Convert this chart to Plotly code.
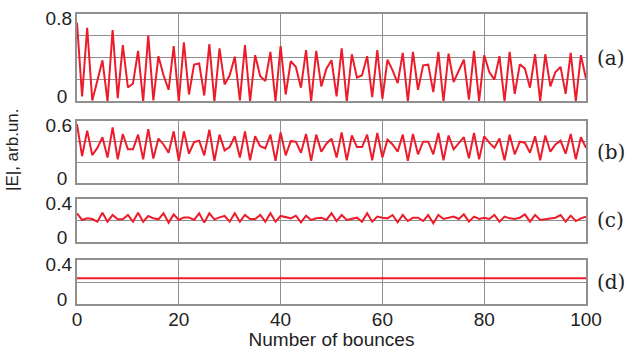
import plotly.graph_objects as go

# Field amplitude |E| versus number of bounces, four cases (a)-(d)
bounces = list(range(101))

a_vals = [
    0.72, 0.046, 0.674, 0.009, 0.19, 0.377, 0.0, 0.653, 0.03, 0.515,
    0.128, 0.165, 0.463, 0.0, 0.604, 0.009, 0.414, 0.24, 0.107, 0.506,
    0.0, 0.54, 0.064, 0.337, 0.347, 0.055, 0.524, 0.0, 0.485, 0.156,
    0.24, 0.41, 0.01, 0.515, 0.0, 0.423, 0.23, 0.187, 0.453, 0.0,
    0.506, 0.064, 0.368, 0.316, 0.126, 0.469, 0.0, 0.463, 0.138, 0.3,
    0.377, 0.046, 0.485, 0.0, 0.432, 0.218, 0.24, 0.414, 0.04, 0.469,
    0.025, 0.383, 0.285, 0.168, 0.444, 0.0, 0.453, 0.107, 0.331, 0.337,
    0.086, 0.453, 0.0, 0.438, 0.178, 0.285, 0.383, 0.016, 0.463, 0.003,
    0.423, 0.27, 0.2, 0.414, 0.0, 0.453, 0.07, 0.34, 0.3, 0.126,
    0.432, 0.0, 0.432, 0.138, 0.27, 0.316, 0.07, 0.444, 0.003, 0.423,
    0.208,
]

b_vals = [
    0.57, 0.26, 0.507, 0.27, 0.34, 0.443, 0.246, 0.538, 0.23, 0.474,
    0.326, 0.326, 0.468, 0.23, 0.522, 0.236, 0.43, 0.373, 0.293, 0.5,
    0.214, 0.5, 0.284, 0.395, 0.41, 0.268, 0.516, 0.214, 0.468, 0.316,
    0.348, 0.452, 0.246, 0.5, 0.22, 0.452, 0.357, 0.335, 0.468, 0.214,
    0.49, 0.268, 0.405, 0.4, 0.293, 0.474, 0.214, 0.468, 0.303, 0.38,
    0.43, 0.246, 0.49, 0.22, 0.46, 0.348, 0.348, 0.468, 0.22, 0.484,
    0.246, 0.42, 0.373, 0.303, 0.468, 0.214, 0.474, 0.278, 0.4, 0.4,
    0.278, 0.484, 0.22, 0.46, 0.326, 0.38, 0.443, 0.24, 0.484, 0.23,
    0.452, 0.39, 0.34, 0.43, 0.22, 0.468, 0.278, 0.4, 0.39, 0.293,
    0.452, 0.22, 0.46, 0.303, 0.373, 0.41, 0.284, 0.474, 0.23, 0.443,
    0.34,
]

c_vals = [
    0.267, 0.205, 0.22, 0.214, 0.189, 0.273, 0.189, 0.251, 0.211, 0.211,
    0.251, 0.189, 0.273, 0.189, 0.242, 0.22, 0.211, 0.267, 0.18, 0.257,
    0.205, 0.229, 0.229, 0.205, 0.267, 0.18, 0.267, 0.211, 0.229, 0.242,
    0.189, 0.267, 0.189, 0.251, 0.214, 0.214, 0.251, 0.189, 0.267, 0.189,
    0.242, 0.229, 0.22, 0.245, 0.183, 0.245, 0.205, 0.22, 0.226, 0.205,
    0.267, 0.195, 0.251, 0.205, 0.214, 0.226, 0.189, 0.267, 0.189, 0.236,
    0.226, 0.22, 0.251, 0.183, 0.251, 0.195, 0.226, 0.226, 0.195, 0.251,
    0.174, 0.251, 0.214, 0.226, 0.236, 0.214, 0.257, 0.189, 0.236, 0.214,
    0.226, 0.214, 0.251, 0.189, 0.236, 0.22, 0.214, 0.226, 0.257, 0.189,
    0.251, 0.205, 0.214, 0.22, 0.226, 0.251, 0.189, 0.245, 0.195, 0.22,
    0.236,
]

d_vals = [
    0.235, 0.235, 0.235, 0.235, 0.235, 0.235, 0.235, 0.235, 0.235, 0.235,
    0.235, 0.235, 0.235, 0.235, 0.235, 0.235, 0.235, 0.235, 0.235, 0.235,
    0.235, 0.235, 0.235, 0.235, 0.235, 0.235, 0.235, 0.235, 0.235, 0.235,
    0.235, 0.235, 0.235, 0.235, 0.235, 0.235, 0.235, 0.235, 0.235, 0.235,
    0.235, 0.235, 0.235, 0.235, 0.235, 0.235, 0.235, 0.235, 0.235, 0.235,
    0.235, 0.235, 0.235, 0.235, 0.235, 0.235, 0.235, 0.235, 0.235, 0.235,
    0.235, 0.235, 0.235, 0.235, 0.235, 0.235, 0.235, 0.235, 0.235, 0.235,
    0.235, 0.235, 0.235, 0.235, 0.235, 0.235, 0.235, 0.235, 0.235, 0.235,
    0.235, 0.235, 0.235, 0.235, 0.235, 0.235, 0.235, 0.235, 0.235, 0.235,
    0.235, 0.235, 0.235, 0.235, 0.235, 0.235, 0.235, 0.235, 0.235, 0.235,
    0.235,
]

series = [a_vals, b_vals, c_vals, d_vals]
panel_labels = ["(a)", "(b)", "(c)", "(d)"]
y_tops = [0.8, 0.6, 0.4, 0.4]
y_grids = [[0, 0.2, 0.4, 0.6, 0.8], [0, 0.2, 0.4, 0.6], [0, 0.2, 0.4], [0, 0.2, 0.4]]
x_ticks = [0, 20, 40, 60, 80, 100]
x_title = "Number of bounces"
y_title = "|E|, arb.un."

RED = "#ec1c2b"
GRID = "#909090"
TXT = "#222222"
FONT = "Liberation Sans, Arial, sans-serif"
TICK_SIZE = 19

domains = [[0.6983, 1.0], [0.4172, 0.631], [0.2138, 0.3621], [0.0, 0.1517]]

fig = go.Figure()
layout = dict(
    width=627, height=350,
    margin=dict(l=77, r=41, t=14, b=46, autoexpand=False),
    paper_bgcolor="white", plot_bgcolor="white",
    showlegend=False,
    font=dict(family=FONT, size=TICK_SIZE, color=TXT),
)

for i, vals in enumerate(series):
    k = i + 1
    xa = "x" if k == 1 else f"x{k}"
    ya = "y" if k == 1 else f"y{k}"
    ok = 4 + k
    fig.add_trace(go.Scatter(x=bounces, y=vals, mode="lines",
                             line=dict(color=RED, width=2),
                             xaxis=xa, yaxis=ya, hoverinfo="skip"))
    # empty trace so the label-only overlay axis gets drawn
    fig.add_trace(go.Scatter(x=[None], y=[None], mode="lines",
                             xaxis=xa, yaxis=f"y{ok}", hoverinfo="skip"))

    is_bottom = (k == 4)
    xkey = "xaxis" if k == 1 else f"xaxis{k}"
    ykey = "yaxis" if k == 1 else f"yaxis{k}"
    layout[xkey] = dict(
        domain=[0, 1], anchor=ya, range=[0, 100], automargin=False,
        tickvals=x_ticks, showticklabels=is_bottom, ticks="",
        ticklabelstandoff=-3,
        showgrid=True, gridcolor=GRID, gridwidth=1.3,
        showline=True, linecolor=GRID, linewidth=1.5, mirror=True,
        zeroline=False,
        tickfont=dict(size=TICK_SIZE, family=FONT, color=TXT),
    )
    if k != 1:
        layout[xkey]["matches"] = "x"
    if is_bottom:
        layout[xkey]["title"] = dict(text=x_title, standoff=8,
                                     font=dict(size=TICK_SIZE, family=FONT, color=TXT))

    grid = y_grids[i]
    # main axis: grid lines plus the "0" label
    layout[ykey] = dict(
        domain=domains[i], anchor=xa, range=[0, y_tops[i]], automargin=False,
        tickvals=grid, ticktext=["0"] + [""] * (len(grid) - 1),
        ticks="", ticklabelshift=-5, ticklabelstandoff=4,
        showgrid=True, gridcolor=GRID, gridwidth=1.3,
        showline=True, linecolor=GRID, linewidth=1.5, mirror=True,
        zeroline=False,
        tickfont=dict(size=TICK_SIZE, family=FONT, color=TXT),
    )
    # overlay axis carrying the top label
    layout[f"yaxis{ok}"] = dict(
        overlaying=ya, anchor=xa, side="left", range=[0, y_tops[i]], automargin=False,
        tickvals=[y_tops[i]], ticktext=[f"{y_tops[i]:g}"],
        ticks="", ticklabelshift=4, ticklabelstandoff=4,
        showgrid=False, showline=False, zeroline=False,
        tickfont=dict(size=TICK_SIZE, family=FONT, color=TXT),
    )

fig.update_layout(**layout)

# panel tags on the right
centers = [(d[0] + d[1]) / 2 for d in domains]
for lbl, yc in zip(panel_labels, centers):
    fig.add_annotation(text=lbl, xref="paper", yref="paper", x=1, y=yc,
                       xanchor="left", yanchor="middle", xshift=9, showarrow=False,
                       font=dict(family="DejaVu Serif, serif", size=20, color=TXT))

# shared y-axis title
fig.add_annotation(text=y_title, xref="paper", yref="paper", x=0, y=0.531,
                   xanchor="center", yanchor="middle", xshift=-65, textangle=-90,
                   showarrow=False, font=dict(family=FONT, size=17, color=TXT))

fig.write_html("out.html")
